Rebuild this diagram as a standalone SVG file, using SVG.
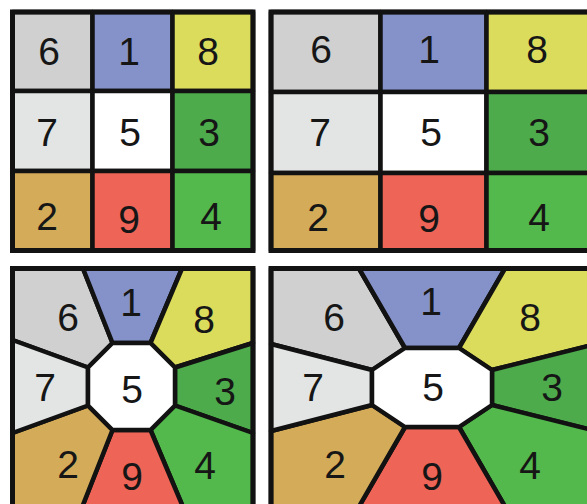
<svg xmlns="http://www.w3.org/2000/svg" width="587" height="504" viewBox="0 0 587 504">
<style>
.r{stroke:#121212;stroke-width:4.5;stroke-linejoin:round}
.b{fill:none;stroke:#121212;stroke-width:5}
.t{font-family:"Liberation Sans",Arial,sans-serif;font-size:39px;fill:#161616;text-anchor:middle}
.c6{fill:#cfd0cf}.c1{fill:#8592c9}.c8{fill:#dcdc5c}.c7{fill:#e3e5e4}.c5{fill:#ffffff}
.c3{fill:#4dab4c}.c2{fill:#d4ab58}.c9{fill:#ee6456}.c4{fill:#53b94c}
</style>
<rect width="587" height="504" fill="#ffffff"/>
<!-- Panel 1 -->
<g id="panel1">
<g id="p1-6"><rect class="r c6" x="12.5" y="12" width="80" height="79"/><text class="t" x="49" y="65">6</text></g>
<g id="p1-1"><rect class="r c1" x="92.5" y="12" width="80" height="79"/><text class="t" x="129" y="65">1</text></g>
<g id="p1-8"><rect class="r c8" x="172.5" y="12" width="80.5" height="79"/><text class="t" x="208" y="65">8</text></g>
<g id="p1-7"><rect class="r c7" x="12.5" y="91" width="80" height="80"/><text class="t" x="47" y="146">7</text></g>
<g id="p1-5"><rect class="r c5" x="92.5" y="91" width="80" height="80"/><text class="t" x="130" y="146">5</text></g>
<g id="p1-3"><rect class="r c3" x="172.5" y="91" width="80.5" height="80"/><text class="t" x="209" y="146">3</text></g>
<g id="p1-2"><rect class="r c2" x="12.5" y="171" width="80" height="79.5"/><text class="t" x="47" y="230">2</text></g>
<g id="p1-9"><rect class="r c9" x="92.5" y="171" width="80" height="79.5"/><text class="t" x="129" y="233">9</text></g>
<g id="p1-4"><rect class="r c4" x="172.5" y="171" width="80.5" height="79.5"/><text class="t" x="211" y="230">4</text></g>
<rect class="b" x="12.5" y="12" width="240.5" height="238.5"/>
</g>
<!-- Panel 2 -->
<g id="panel2">
<g id="p2-6"><rect class="r c6" x="271" y="12" width="109.5" height="80"/><text class="t" x="321" y="63">6</text></g>
<g id="p2-1"><rect class="r c1" x="380.5" y="12" width="106" height="80"/><text class="t" x="429" y="63">1</text></g>
<g id="p2-8"><rect class="r c8" x="486.5" y="12" width="108" height="80"/><text class="t" x="537" y="63">8</text></g>
<g id="p2-7"><rect class="r c7" x="271" y="92" width="109.5" height="81"/><text class="t" x="320" y="146">7</text></g>
<g id="p2-5"><rect class="r c5" x="380.5" y="92" width="106" height="81"/><text class="t" x="431" y="146">5</text></g>
<g id="p2-3"><rect class="r c3" x="486.5" y="92" width="108" height="81"/><text class="t" x="539" y="146">3</text></g>
<g id="p2-2"><rect class="r c2" x="271" y="173" width="109.5" height="77.5"/><text class="t" x="318" y="231">2</text></g>
<g id="p2-9"><rect class="r c9" x="380.5" y="173" width="106" height="77.5"/><text class="t" x="429" y="232">9</text></g>
<g id="p2-4"><rect class="r c4" x="486.5" y="173" width="108" height="77.5"/><text class="t" x="539" y="231">4</text></g>
<rect class="b" x="271" y="12" width="323.5" height="238.5"/>
</g>
<!-- Panel 3 -->
<g id="panel3">
<g id="p3-6"><polygon class="r c6" points="12.5,268.5 83,268.5 112.5,343 88,367.5 12.5,340"/><text class="t" x="68" y="331">6</text></g>
<g id="p3-1"><polygon class="r c1" points="83,268.5 182,268.5 150.5,343 112.5,343"/><text class="t" x="131" y="316">1</text></g>
<g id="p3-8"><polygon class="r c8" points="182,268.5 253,268.5 253,343 175,367.5 150.5,343"/><text class="t" x="204" y="333">8</text></g>
<g id="p3-3"><polygon class="r c3" points="253,343 253,433 175,405.5 175,367.5"/><text class="t" x="225" y="405">3</text></g>
<g id="p3-4"><polygon class="r c4" points="253,433 253,520 188.5,520 150.5,430 175,405.5"/><text class="t" x="205" y="479">4</text></g>
<g id="p3-9"><polygon class="r c9" points="150.5,430 188.5,520 77,520 112.5,430"/><text class="t" x="132" y="490">9</text></g>
<g id="p3-2"><polygon class="r c2" points="112.5,430 77,520 12.5,520 12.5,433 88,405.5"/><text class="t" x="68" y="478">2</text></g>
<g id="p3-7"><polygon class="r c7" points="12.5,433 12.5,340 88,367.5 88,405.5"/><text class="t" x="45" y="401">7</text></g>
<g id="p3-5"><polygon class="r c5" points="112.5,343 150.5,343 175,367.5 175,405.5 150.5,430 112.5,430 88,405.5 88,367.5"/><text class="t" x="132" y="403">5</text></g>
<rect class="b" x="12.5" y="268.5" width="240.5" height="260"/>
</g>
<!-- Panel 4 -->
<g id="panel4">
<g id="p4-6"><polygon class="r c6" points="271,268.5 359,268.5 405,348 372,370 271,344"/><text class="t" x="334" y="331">6</text></g>
<g id="p4-1"><polygon class="r c1" points="359,268.5 505,268.5 459,348 405,348"/><text class="t" x="431" y="315">1</text></g>
<g id="p4-8"><polygon class="r c8" points="505,268.5 594,268.5 594,344.5 492,370 459,348"/><text class="t" x="530" y="331">8</text></g>
<g id="p4-3"><polygon class="r c3" points="594,344.5 594,430.5 492,405 492,370"/><text class="t" x="552" y="401">3</text></g>
<g id="p4-4"><polygon class="r c4" points="594,430.5 594,520 512.8,520 459,427 492,405"/><text class="t" x="530" y="479">4</text></g>
<g id="p4-9"><polygon class="r c9" points="459,427 512.8,520 351.2,520 405,427"/><text class="t" x="432" y="490">9</text></g>
<g id="p4-2"><polygon class="r c2" points="405,427 351.2,520 271,520 271,431 372,405"/><text class="t" x="335" y="478">2</text></g>
<g id="p4-7"><polygon class="r c7" points="271,431 271,344 372,370 372,405"/><text class="t" x="313" y="401">7</text></g>
<g id="p4-5"><polygon class="r c5" points="405,348 459,348 492,370 492,405 459,427 405,427 372,405 372,370"/><text class="t" x="433" y="401">5</text></g>
<rect class="b" x="271" y="268.5" width="323.5" height="260"/>
</g>
</svg>
